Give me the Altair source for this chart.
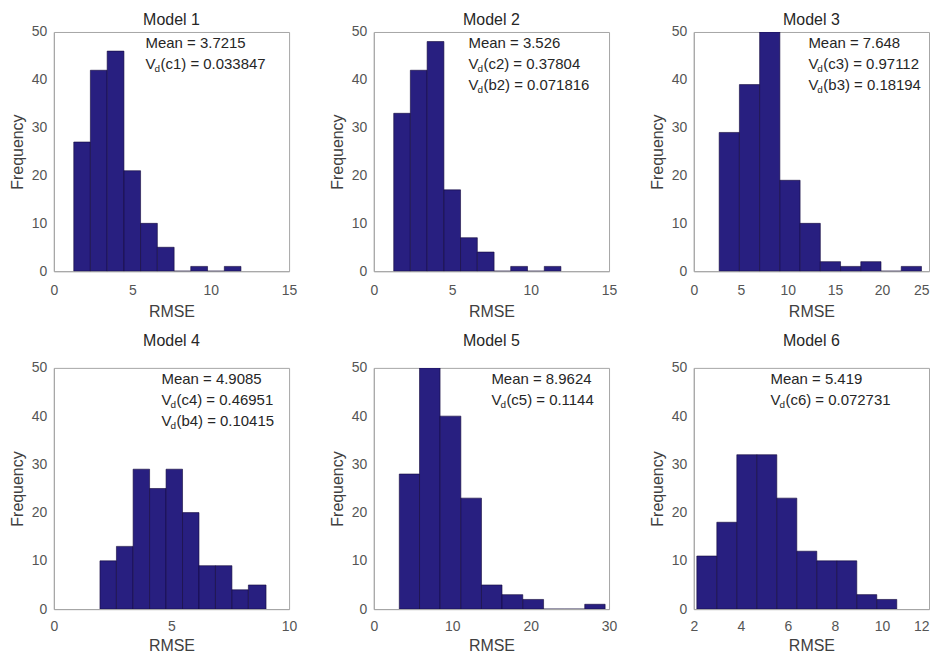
import altair as alt
import pandas as pd

FONT = "Liberation Sans"

titles = ["Model 1", "Model 2", "Model 3", "Model 4", "Model 5", "Model 6"]

edges = [
    [1.27, 2.33, 3.40, 4.47, 5.53, 6.60, 7.67, 8.73, 9.80, 10.87, 11.93],
    [1.27, 2.33, 3.40, 4.47, 5.53, 6.60, 7.67, 8.73, 9.80, 10.87, 11.93],
    [2.70, 4.85, 7.00, 9.15, 11.30, 13.45, 15.60, 17.75, 19.90, 22.05, 24.20],
    [1.96, 2.66, 3.37, 4.07, 4.77, 5.47, 6.17, 6.87, 7.57, 8.27, 9.02],
    [3.25, 5.83, 8.45, 11.10, 13.73, 16.35, 19.00, 21.65, 24.28, 26.90, 29.50],
    [2.13, 2.98, 3.83, 4.68, 5.53, 6.38, 7.23, 8.08, 8.93, 9.78, 10.63],
]

counts = [
    [27, 42, 46, 21, 10, 5, 0, 1, 0, 1],
    [33, 42, 48, 17, 7, 4, 0, 1, 0, 1],
    [29, 39, 50, 19, 10, 2, 1, 2, 0, 1],
    [10, 13, 29, 25, 29, 20, 9, 9, 4, 5],
    [28, 50, 40, 23, 5, 3, 2, 0, 0, 1],
    [11, 18, 32, 32, 23, 12, 10, 10, 3, 2],
]

x_domains = [[0, 15], [0, 15], [0, 25], [0, 10], [0, 30], [2, 12]]
x_ticks = [
    [0, 5, 10, 15],
    [0, 5, 10, 15],
    [0, 5, 10, 15, 20, 25],
    [0, 5, 10],
    [0, 10, 20, 30],
    [2, 4, 6, 8, 10, 12],
]
y_ticks = [0, 10, 20, 30, 40, 50]

means = ["Mean = 3.7215", "Mean = 3.526", "Mean = 7.648",
         "Mean = 4.9085", "Mean = 8.9624", "Mean = 5.419"]
# (parameter, value) pairs for the V_d lines
vd_lines = [
    [("c1", "0.033847")],
    [("c2", "0.37804"), ("b2", "0.071816")],
    [("c3", "0.97112"), ("b3", "0.18194")],
    [("c4", "0.46951"), ("b4", "0.10415")],
    [("c5", "0.1144")],
    [("c6", "0.072731")],
]

# annotation layout (pixels inside plot area)
ann_left = [92, 95, 115, 108, 118, 77]
ann_top = 11
ann_step = 21

PW = 236
BAR_COLOR = "#281f80"
TEXT_COLOR = "#262626"
RIGHT_COLUMN = {2, 5}


def text_layer(s, x, y, size=15, dy=0):
    return alt.Chart(pd.DataFrame({"t": [s]})).mark_text(
        align="left", baseline="middle", font=FONT, fontSize=size,
        color=TEXT_COLOR, dy=dy
    ).encode(text="t:N", x=alt.value(x), y=alt.value(y))


def panel(i, ph, title_offset, lab_pad, tit_pad):
    lo = edges[i][:-1]
    hi = edges[i][1:]
    df = pd.DataFrame({"lo": lo, "hi": hi, "count": counts[i]})
    axis_kw = dict(values=x_ticks[i], title="RMSE", format="d",
                   labelFlush=False, labelPadding=lab_pad, titlePadding=tit_pad)
    if i in RIGHT_COLUMN:
        axis_kw["labelAlign"] = {
            "condition": {"test": f"datum.value == {x_ticks[i][-1]}", "value": "right"},
            "value": "center",
        }
    bars = alt.Chart(df).mark_rect(
        color=BAR_COLOR, stroke="#12093a", strokeWidth=0.6, clip=True
    ).encode(
        x=alt.X("lo:Q", scale=alt.Scale(domain=x_domains[i], nice=False, zero=False),
                axis=alt.Axis(**axis_kw)),
        x2="hi:Q",
        y=alt.Y("count:Q", scale=alt.Scale(domain=[0, 50], nice=False),
                axis=alt.Axis(values=y_ticks, title="Frequency", format="d")),
        y2=alt.datum(0),
    )
    layers = [bars]
    x0 = ann_left[i]
    layers.append(text_layer(means[i], x0, ann_top))
    for k, (p, v) in enumerate(vd_lines[i]):
        yy = ann_top + ann_step * (k + 1)
        layers.append(text_layer("V", x0, yy))
        layers.append(text_layer("d", x0 + 9, yy, size=10, dy=5))
        layers.append(text_layer(f"({p}) = {v}", x0 + 15, yy))
    return alt.layer(*layers).properties(
        width=PW, height=ph,
        title=alt.TitleParams(titles[i], fontSize=16, font=FONT, fontWeight="normal",
                              color=TEXT_COLOR, offset=title_offset),
    )


row1 = alt.hconcat(*[panel(i, 240, -3, 12, 6) for i in range(3)], spacing=30)
row2 = alt.hconcat(*[panel(i, 242, 12, 10, 5) for i in range(3, 6)], spacing=30)

chart = alt.vconcat(row1, row2, spacing=12).properties(
    padding={"left": 0, "top": 2, "right": 0, "bottom": 0}
).configure_view(
    stroke="#a6a6a6", strokeWidth=1
).configure_axis(
    grid=False, ticks=False, tickSize=0, domain=True, domainColor="#a6a6a6",
    labelFont=FONT, labelFontSize=14, labelColor="#555555",
    titleFont=FONT, titleFontSize=16, titleColor="#404040", titleFontWeight="normal",
).configure_axisY(
    labelPadding=7, titlePadding=6
)

chart.save("out.html", embed_options={"renderer": "svg", "actions": False})
